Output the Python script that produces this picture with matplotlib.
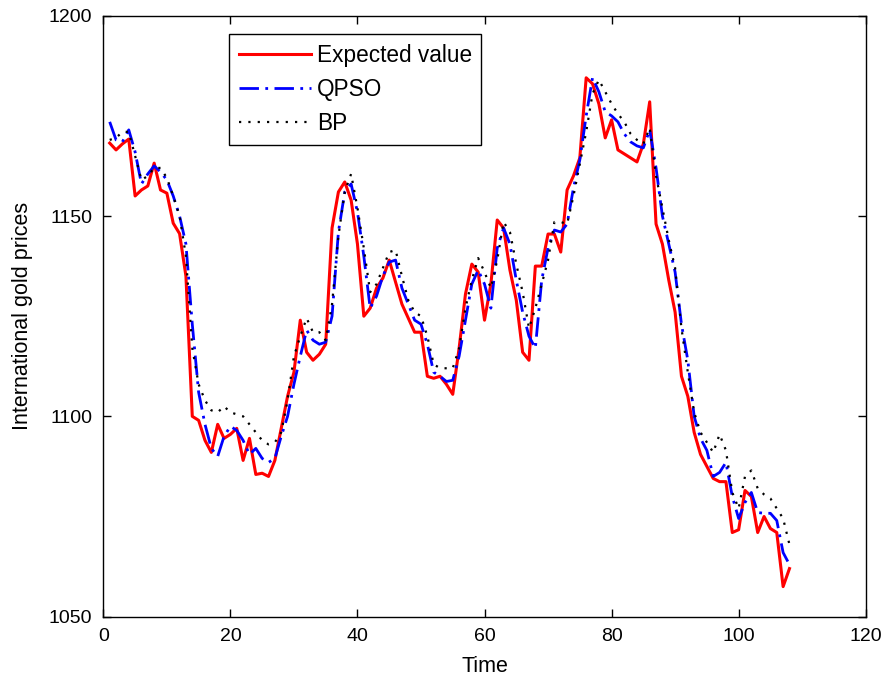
import numpy as np
import matplotlib.pyplot as plt

plt.rcParams['font.family'] = ['Liberation Sans', 'DejaVu Sans']

# actual gold prices and the two model forecasts, one value per time step
expected = [1168.2, 1166.5, 1168, 1169.2, 1155, 1156.5, 1157.5, 1163.2, 1156.5, 1155.7,
            1148.2, 1145.6, 1135, 1100, 1099, 1094, 1091, 1098, 1094.5, 1095.5,
            1097, 1089, 1094.5, 1085.5, 1085.8, 1085, 1089, 1097, 1105, 1111,
            1124, 1116, 1114, 1115.5, 1118, 1147, 1156, 1158.5, 1154, 1143,
            1125, 1127, 1132, 1134.5, 1139, 1133.5, 1128, 1124.5, 1121, 1121,
            1110, 1109.5, 1110, 1108, 1105.5, 1117, 1130.5, 1138, 1136, 1124,
            1133, 1149, 1147, 1136.5, 1129, 1116, 1114, 1137.5, 1137.5, 1145.5,
            1145.5, 1141, 1156.5, 1160, 1164.5, 1184.5, 1183, 1178, 1169.5, 1174,
            1166.5, 1165.5, 1164.5, 1163.5, 1168, 1178.5, 1148, 1143, 1134, 1126,
            1110, 1105, 1096, 1090.5, 1087.5, 1084.5, 1083.7, 1083.7, 1071, 1071.7,
            1081.5, 1080, 1071, 1075, 1072, 1071, 1057.5, 1062]

qpso = [1173.5, 1169, 1168.5, 1171.5, 1166, 1158, 1160.5, 1162.5, 1161, 1159,
        1155, 1150, 1143, 1123, 1106, 1098, 1092, 1090, 1095, 1097.5,
        1096.5, 1094, 1090.5, 1092, 1089.5, 1088.5, 1089.5, 1095, 1100, 1108,
        1115, 1121.5, 1119, 1118, 1118.5, 1125, 1146, 1156, 1158, 1151,
        1140, 1127, 1130, 1135, 1138.5, 1139, 1132, 1128, 1124, 1123,
        1118, 1111, 1110, 1108.7, 1109, 1115, 1124, 1133, 1136.5, 1133,
        1127, 1142, 1147, 1143, 1134, 1126, 1120, 1117, 1134, 1142,
        1146.5, 1146, 1148, 1157, 1164, 1175, 1184.5, 1181, 1176, 1175,
        1173.5, 1170.5, 1168.5, 1167.5, 1167, 1171.5, 1162, 1150, 1143, 1136,
        1123, 1114, 1100, 1094.5, 1091.5, 1085, 1086, 1088.5, 1080, 1074.5,
        1078.5, 1081, 1076, 1075.8, 1075.8, 1074, 1066, 1063]

bp = [1169, 1169.5, 1171, 1171, 1165, 1159, 1160, 1162, 1162, 1159.5,
      1155, 1150, 1140, 1117, 1108, 1104, 1101.5, 1101, 1102.5, 1101,
      1100.5, 1100, 1098, 1096, 1094, 1093, 1093.5, 1096, 1104, 1115,
      1120, 1124.5, 1121, 1121, 1119, 1128, 1145, 1156, 1160.5, 1152,
      1142, 1131, 1133, 1137, 1141, 1141.5, 1135, 1129, 1126, 1125,
      1120, 1113, 1112, 1112, 1112, 1117, 1127, 1134, 1139.5, 1136,
      1132, 1139, 1148.5, 1146, 1138, 1131, 1122, 1127, 1133, 1139,
      1148.5, 1148.5, 1148, 1155, 1163, 1171, 1180.5, 1184, 1181, 1178,
      1175.5, 1173.5, 1170.5, 1169, 1168, 1172, 1160, 1152, 1144, 1137,
      1122, 1111, 1101, 1096, 1093.5, 1091, 1095.5, 1091.5, 1081, 1077,
      1085, 1086.5, 1082, 1080.5, 1079.5, 1077, 1074.5, 1068]

t = np.arange(1, len(expected) + 1)

fig = plt.figure(figsize=(8.84, 6.79), dpi=100)
ax = fig.add_axes([0.1169, 0.0918, 0.8624, 0.8851])

ax.plot(t, expected, color='red', lw=2.2, label='Expected value')
ax.plot(t, qpso, color='blue', lw=2.0, ls=(0, (7, 2.3, 1, 2.3)), label='QPSO')
ax.plot(t, bp, color='black', lw=1.6, ls=(0, (1, 3.2)), label='BP')

ax.set_xlim(0, 120)
ax.set_ylim(1050, 1200)
ax.set_xticks([0, 20, 40, 60, 80, 100, 120])
ax.set_yticks([1050, 1100, 1150, 1200])
ax.tick_params(direction='in', length=6, width=1, top=True, right=True,
               labelsize=14, pad=8)
for s in ax.spines.values():
    s.set_linewidth(1.0)

ax.set_xlabel('Time', fontsize=15.5, labelpad=8)
ax.set_ylabel('International gold prices', fontsize=15.5, labelpad=11)

leg = ax.legend(loc='upper left', bbox_to_anchor=(0.1649, 0.969), fontsize=16.3,
                frameon=True, fancybox=False, edgecolor='black', framealpha=1,
                handlelength=3.2, handletextpad=0.25, labelspacing=0.49,
                borderpad=0.42, borderaxespad=0)
leg.get_frame().set_linewidth(1.0)

fig.savefig('out.png', dpi=100)
